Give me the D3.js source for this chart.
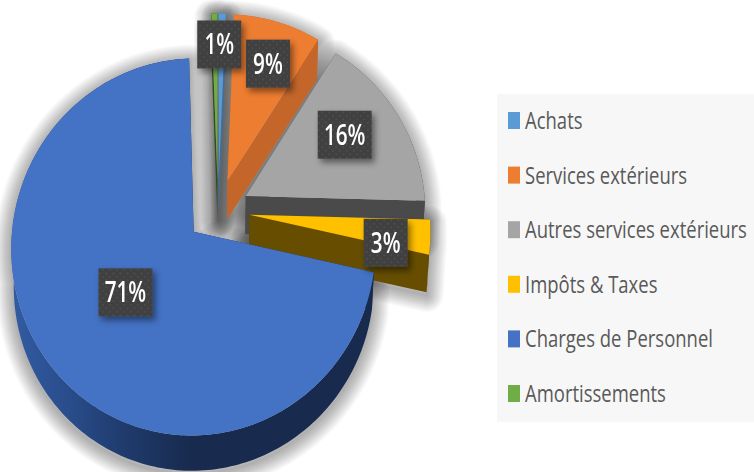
<!DOCTYPE html>
<html>
<head>
<meta charset="utf-8">
<script src="https://cdn.jsdelivr.net/npm/d3@7"></script>
<style>
html,body{margin:0;padding:0;background:#fff;overflow:hidden}
svg{display:block}
.crisp{filter:blur(0.5px)}
</style>
</head>
<body>
<svg id="c" width="754" height="472"></svg>
<script>
const categories = ["Achats","Services extérieurs","Autres services extérieurs","Impôts & Taxes","Charges de Personnel","Amortissements"];
const values = [0.7, 8.5, 16.2, 3, 71, 0.6];
const showLabel = [true, true, true, true, true, false];
const labelRadius = [0.8, 0.73, 0.67, 0.76, 0.48, 0];
const labelTurnDeg = [-1, 1.6, -3.5, 4.5, -1.0, 0];
const topColors = ["#5B9BD5","#ED7D31","#A5A5A5","#FFC000","#4472C4","#70AD47"];
const wallColors = ["#3f6f9c","#C4662A","#4a4a4a","#664D00","#1a2f57","#2f4d1c"];

const W = 754, H = 472;
const svg = d3.select("#c");
const defs = svg.append("defs");

// ---- perspective pie geometry ----
const cx = 218, cy = 211, rx = 180, ry = 184, persp = 0.0793, explode = 0.175, depth = 38, shrink = 0.988;
const sx = d3.scaleLinear().domain([-1,1]).range([cx-rx, cx+rx]);
const sy = d3.scaleLinear().domain([-1,1]).range([cy-ry, cy+ry]);
function project(x, y, low){
  const s = 1/(1-persp*y);
  let X = sx(x*s), Y = sy(y*s);
  if(low){ X = cx+(X-cx)*shrink; Y = cy+(Y-cy)*shrink+depth; }
  return [X,Y];
}
const pie = d3.pie().sort(null).value(d=>d).startAngle(0).endAngle(2*Math.PI);
const arcs = pie(values).map((a,i)=>{
  const mid=(a.startAngle+a.endAngle)/2;
  const ax=explode*Math.sin(mid), ay=-explode*Math.cos(mid);
  const n=Math.max(3,Math.ceil((a.endAngle-a.startAngle)/0.02));
  const rim=d3.range(n+1).map(k=>{
    const t=a.startAngle+(a.endAngle-a.startAngle)*k/n;
    return [ax+Math.sin(t), ay-Math.cos(t)];
  });
  return {i,mid,ax,ay,rim,a};
});
const line = d3.line();
const topPath = d=>line([project(d.ax,d.ay,false),...d.rim.map(p=>project(p[0],p[1],false))])+"Z";
const lowPath = d=>line([project(d.ax,d.ay,true),...d.rim.map(p=>project(p[0],p[1],true))])+"Z";
const rimPath = d=>line([...d.rim.map(p=>project(p[0],p[1],false)),...d.rim.slice().reverse().map(p=>project(p[0],p[1],true))])+"Z";
const startWall = d=>{const p=d.rim[0];return line([project(d.ax,d.ay,false),project(p[0],p[1],false),project(p[0],p[1],true),project(d.ax,d.ay,true)])+"Z";};
const endWall = d=>{const p=d.rim[d.rim.length-1];return line([project(d.ax,d.ay,false),project(p[0],p[1],false),project(p[0],p[1],true),project(d.ax,d.ay,true)])+"Z";};

// ---- defs ----
const ds=defs.append("filter").attr("id","boxShadow").attr("x","-30%").attr("y","-30%").attr("width","170%").attr("height","170%");
ds.append("feDropShadow").attr("dx",3).attr("dy",4).attr("stdDeviation",3).attr("flood-color","#000").attr("flood-opacity",0.45);
const pat=defs.append("pattern").attr("id","dots").attr("width",7).attr("height",7).attr("patternUnits","userSpaceOnUse");
pat.append("rect").attr("width",7).attr("height",7).attr("fill","#404040");
pat.append("circle").attr("cx",2).attr("cy",2).attr("r",0.8).attr("fill","#585858");
pat.append("circle").attr("cx",5.5).attr("cy",5.5).attr("r",0.8).attr("fill","#585858");
const grad=defs.append("linearGradient").attr("id","blueRim").attr("gradientUnits","userSpaceOnUse").attr("x1",10).attr("x2",190).attr("y1",0).attr("y2",0);
[[0,"#325CA3"],[0.3,"#2A4E8D"],[0.65,"#1F3A6B"],[1,"#182B4F"]].forEach(s=>grad.append("stop").attr("offset",s[0]).attr("stop-color",s[1]));

svg.append("rect").attr("width",W).attr("height",H).attr("fill","#fff");

// ---- soft shadow: stacked round-joined outlines, widest first ----
const shadowWidths = d3.range(34,0,-2);
const shadows=svg.append("g").attr("fill","none").attr("stroke","#000").attr("stroke-linejoin","round").attr("stroke-opacity",0.02).attr("transform","translate(0,3)");
shadowWidths.forEach(w=>{
  arcs.forEach(d=>{
    const silhouette=topPath(d)+lowPath(d)+rimPath(d)+startWall(d)+endWall(d);
    shadows.append("path").attr("d",silhouette).attr("stroke-width",w);
  });
});

const crisp=svg.append("g").attr("class","crisp");

// ---- slices, far to near ----
const order=[5,0,1,2,3,4];
const slices=crisp.append("g").selectAll("g").data(order.map(i=>arcs[i])).join("g");
slices.append("path").attr("d",startWall).attr("fill",d=>wallColors[d.i]);
slices.append("path").attr("d",endWall).attr("fill",d=>wallColors[d.i]);
slices.append("path").attr("d",rimPath).attr("fill",d=>d.i===4?"url(#blueRim)":wallColors[d.i]);
slices.append("path").attr("d",topPath).attr("fill",d=>topColors[d.i]);

// ---- data labels ----
const fontStack='"Open Sans","Noto Sans",sans-serif';
const labels=crisp.append("g").selectAll("g").data(arcs.filter(d=>showLabel[d.i])).join("g")
  .attr("transform",d=>{
    const r=labelRadius[d.i], t=d.mid+labelTurnDeg[d.i]*Math.PI/180;
    const p=project(d.ax+r*Math.sin(t),d.ay-r*Math.cos(t),false);
    return `translate(${p[0]},${p[1]})`;
  });
const labelText=d=>Math.round(values[d.i])+"%";
labels.append("rect")
  .attr("x",d=>-(34+10*String(Math.round(values[d.i])).length)/2)
  .attr("y",-24).attr("height",48)
  .attr("width",d=>34+10*String(Math.round(values[d.i])).length)
  .attr("fill","url(#dots)").attr("filter","url(#boxShadow)");
labels.append("text").text(labelText)
  .attr("text-anchor","middle").attr("transform","scale(0.74,1)")
  .attr("y",10).attr("font-family",fontStack).attr("font-size",28).attr("font-weight",600).attr("fill","#fff");

// ---- legend ----
const legendY=d3.scalePoint().domain(categories).range([121,394]);
crisp.append("rect").attr("x",497).attr("y",94).attr("width",W-497).attr("height",328).attr("fill","#F7F7F7");
const lg=crisp.append("g").selectAll("g").data(categories).join("g").attr("transform",d=>`translate(0,${legendY(d)})`);
lg.append("rect").attr("x",508).attr("y",-9).attr("width",12).attr("height",17).attr("fill",(d,i)=>topColors[i]);
const lt=lg.append("text").text(d=>d).attr("y",8).attr("font-family",fontStack).attr("font-size",23).attr("fill","#595959");
const longest=d3.max(lt.nodes(),n=>n.getComputedTextLength());
const k=222/longest;
lt.attr("transform",`translate(525,0) scale(${k},1)`);
</script>
</body>
</html>
